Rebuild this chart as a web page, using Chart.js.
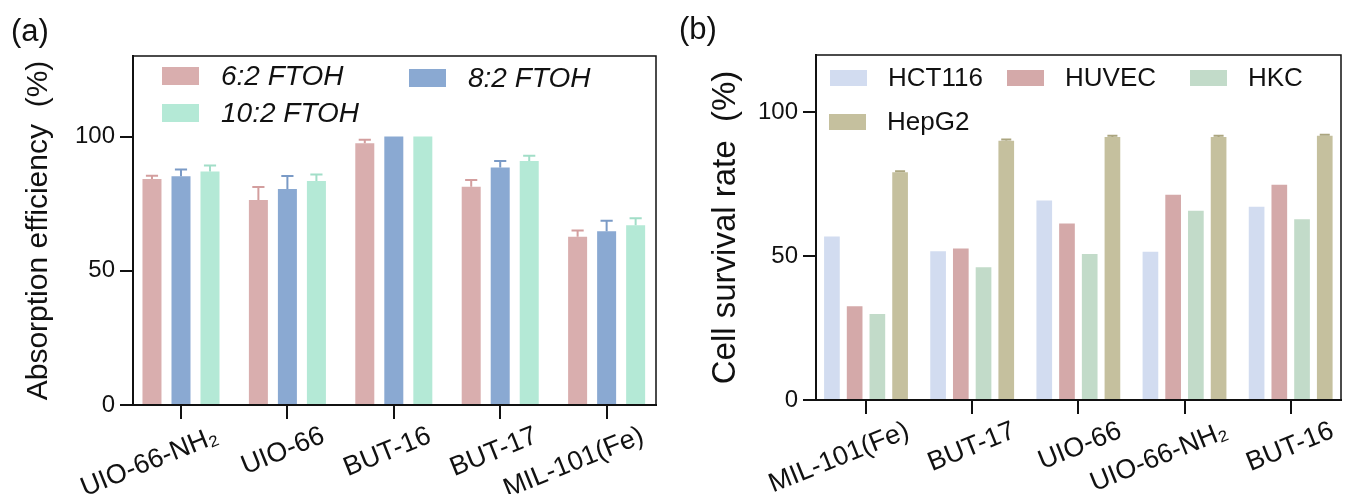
<!DOCTYPE html>
<html>
<head>
<meta charset="utf-8">
<script src="https://cdn.jsdelivr.net/npm/chart.js@4.4.1/dist/chart.umd.min.js"></script>
<style>
  html, body { margin: 0; padding: 0; background: #fff; }
  #wrap { position: relative; width: 1348px; height: 494px; overflow: hidden; }
  canvas { position: absolute; top: 0; }
  #chartA { left: 0; }
  #chartB { left: 674px; }
  .panel { position: absolute; font: 31px "Liberation Sans", Arial, sans-serif; line-height: 31px; color: #111; }
</style>
</head>
<body>
<div id="wrap">
  <canvas id="chartA" width="674" height="494"></canvas>
  <canvas id="chartB" width="674" height="494"></canvas>
  <div class="panel" style="left:11px;top:15px">(a)</div>
  <div class="panel" style="left:679px;top:13px">(b)</div>
</div>
<script>
// (a) FTOH absorption efficiency per MOF
const adsorbents = ['UIO-66-NH₂', 'UIO-66', 'BUT-16', 'BUT-17', 'MIL-101(Fe)'];
const ftoh62 = [84.2, 76.4, 97.5, 81.3, 62.7];
const ftoh82 = [85.2, 80.5, 100, 88.5, 64.7];
const ftoh102 = [87.0, 83.4, 100, 90.9, 67.0];
const ftoh62Err = [1.2, 4.8, 1.3, 2.5, 2.3];
const ftoh82Err = [2.5, 4.8, 0, 2.4, 3.9];
const ftoh102Err = [2.2, 2.5, 0, 1.9, 2.6];

// (b) cell survival rate per MOF
const mofs = ['MIL-101(Fe)', 'BUT-17', 'UIO-66', 'UIO-66-NH₂', 'BUT-16'];
const hct116 = [56.9, 51.7, 69.4, 51.6, 67.2];
const huvec = [32.6, 52.7, 61.4, 71.4, 74.9];
const hkc = [29.9, 46.2, 50.8, 65.8, 62.9];
const hepg2 = [79.2, 90.2, 91.5, 91.5, 91.9];
const hepg2Err = [0.4, 0.4, 0.4, 0.4, 0.4];

const yTicksA = [0, 50, 100];
const yTicksB = [0, 50, 100];

const FONT = '"Liberation Sans", Arial, Helvetica, sans-serif';
const INK = '#111';

// top and right edges of the plot box
const frame = {
  id: 'frame',
  afterDraw(chart) {
    const { ctx, chartArea: a } = chart;
    ctx.save();
    ctx.strokeStyle = INK;
    ctx.lineWidth = 1.5;
    ctx.beginPath();
    ctx.moveTo(a.left, a.top);
    ctx.lineTo(a.right, a.top);
    ctx.lineTo(a.right, a.bottom);
    ctx.stroke();
    ctx.restore();
  }
};

// upward error bars with caps
const errorBars = {
  id: 'errorBars',
  afterDatasetsDraw(chart) {
    const { ctx } = chart;
    const y = chart.scales.y;
    chart.data.datasets.forEach((ds, i) => {
      if (!ds.errors) return;
      const meta = chart.getDatasetMeta(i);
      meta.data.forEach((bar, j) => {
        const e = ds.errors[j];
        if (!e) return;
        const v = ds.data[j];
        const y0 = y.getPixelForValue(v);
        const y1 = y.getPixelForValue(v + e);
        const cap = bar.width * 0.32;
        ctx.save();
        ctx.strokeStyle = ds.errorColor;
        ctx.lineWidth = 2;
        ctx.beginPath();
        ctx.moveTo(bar.x, y0);
        ctx.lineTo(bar.x, y1);
        ctx.moveTo(bar.x - cap, y1);
        ctx.lineTo(bar.x + cap, y1);
        ctx.stroke();
        ctx.restore();
      });
    });
  }
};

// legend laid out as a grid inside the plot box
const boxLegend = {
  id: 'boxLegend',
  afterDraw(chart, args, opts) {
    const { ctx, chartArea: a } = chart;
    ctx.save();
    ctx.font = opts.font;
    ctx.textBaseline = 'middle';
    ctx.textAlign = 'left';
    opts.items.forEach(it => {
      const ds = chart.data.datasets[it.index];
      const bx = a.left + it.x, by = a.top + it.y;
      ctx.fillStyle = ds.backgroundColor;
      ctx.fillRect(bx, by, opts.boxW, opts.boxH);
      ctx.fillStyle = INK;
      ctx.fillText(ds.label, bx + opts.textGap, by + opts.boxH / 2 + 1);
    });
    ctx.restore();
  }
};

// category axis; start/span set the side margins in category units
function axisX(height, labelOffset, start, span) {
  return {
    offset: true,
    grid: { display: true, offset: false, drawOnChartArea: false, drawTicks: true, tickLength: 14, color: INK, lineWidth: 2 },
    border: { display: true, color: INK, width: 2 },
    ticks: { color: INK, font: { family: FONT, size: 27 }, minRotation: 22, maxRotation: 22, labelOffset: labelOffset, padding: 1, autoSkip: false },
    afterFit(s) { s.height = height; },
    afterUpdate(s) { s._startValue = start; s._valueRange = span; }
  };
}

function axisY(max, tickValues, title, titleSize, width, titlePad) {
  return {
    min: 0,
    max: max,
    grid: { display: true, drawOnChartArea: false, drawTicks: true, tickLength: 13, color: INK, lineWidth: 2 },
    border: { display: true, color: INK, width: 2 },
    ticks: { stepSize: 50, color: INK, font: { family: FONT, size: 24 }, padding: 5 },
    title: { display: true, text: title, color: INK, font: { family: FONT, size: titleSize }, padding: { top: titlePad, bottom: 0 } },
    afterBuildTicks(s) { s.ticks = tickValues.map(v => ({ value: v })); },
    afterFit(s) { s.width = width; }
  };
}

new Chart(document.getElementById('chartA'), {
  type: 'bar',
  data: {
    labels: adsorbents,
    datasets: [
      { label: '6:2 FTOH', data: ftoh62, errors: ftoh62Err, backgroundColor: '#D9AEAE', errorColor: '#D39E9E' },
      { label: '8:2 FTOH', data: ftoh82, errors: ftoh82Err, backgroundColor: '#8AA9D2', errorColor: '#7A9AC6' },
      { label: '10:2 FTOH', data: ftoh102, errors: ftoh102Err, backgroundColor: '#B4E9D6', errorColor: '#A2DEC8' }
    ]
  },
  options: {
    responsive: false,
    animation: false,
    devicePixelRatio: 1,
    layout: { padding: { top: 56, right: 18, left: 0, bottom: 0 } },
    datasets: { bar: { categoryPercentage: 0.818, barPercentage: 0.655, borderWidth: 0 } },
    plugins: {
      legend: { display: false },
      tooltip: { enabled: false },
      boxLegend: {
        font: 'italic 28px ' + FONT,
        boxW: 37, boxH: 18, textGap: 59,
        items: [ { index: 0, x: 29, y: 11 }, { index: 1, x: 276, y: 13 }, { index: 2, x: 29, y: 48 } ]
      }
    },
    scales: {
      x: axisX(89, 36, -0.451, 4.915),
      y: axisY(130, yTicksA, 'Absorption efficiency  (%)', 30, 133, 21)
    }
  },
  plugins: [frame, errorBars, boxLegend]
});

new Chart(document.getElementById('chartB'), {
  type: 'bar',
  data: {
    labels: mofs,
    datasets: [
      { label: 'HCT116', data: hct116, backgroundColor: '#D2DCF0' },
      { label: 'HUVEC', data: huvec, backgroundColor: '#D4A9A9' },
      { label: 'HKC', data: hkc, backgroundColor: '#C2DBC9' },
      { label: 'HepG2', data: hepg2, errors: hepg2Err, backgroundColor: '#C5C09E', errorColor: '#ABA57F' }
    ]
  },
  options: {
    responsive: false,
    animation: false,
    devicePixelRatio: 1,
    layout: { padding: { top: 55, right: 7, left: 0, bottom: 0 } },
    datasets: { bar: { categoryPercentage: 0.856, barPercentage: 0.69, borderWidth: 0 } },
    plugins: {
      legend: { display: false },
      tooltip: { enabled: false },
      boxLegend: {
        font: '26px ' + FONT,
        boxW: 37, boxH: 16, textGap: 58,
        items: [ { index: 0, x: 14, y: 15 }, { index: 1, x: 191, y: 15 }, { index: 2, x: 374, y: 15 }, { index: 3, x: 13, y: 59 } ]
      }
    },
    scales: {
      x: axisX(94, 42, -0.471, 4.945),
      y: axisY(120, yTicksB, 'Cell survival rate  (%)', 33, 142, 32)
    }
  },
  plugins: [frame, errorBars, boxLegend]
});
</script>
</body>
</html>
